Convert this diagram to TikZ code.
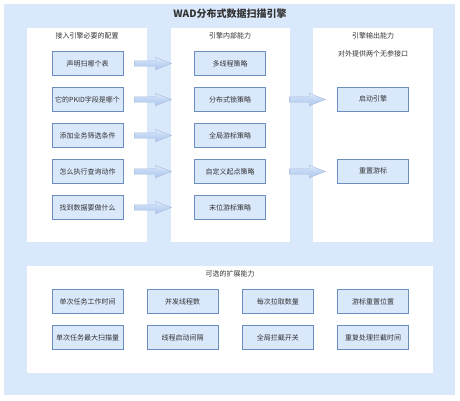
\documentclass[tikz,border=0pt]{standalone}
\usepackage{fontspec}
\setmainfont{Noto Sans CJK SC}
\usetikzlibrary{positioning,shapes.arrows}
\definecolor{bgblue}{HTML}{DAE8FC}
\definecolor{boxline}{HTML}{6C8EBF}
\definecolor{arrowblue}{HTML}{A9C4EB}
\definecolor{txt}{HTML}{333333}

\begin{document}
\begin{tikzpicture}[x=1pt,y=-1pt,node distance=36pt,
    item/.style={rectangle,draw=boxline,fill=bgblue,minimum width=71pt,minimum height=24pt,inner sep=1pt,font=\fontsize{7}{8}\selectfont,text=txt},
    head/.style={font=\fontsize{7}{8}\selectfont,text=txt},
    flow/.style={single arrow,draw=boxline!60,top color=bgblue,bottom color=arrowblue,minimum height=37pt,single arrow head extend=3.5pt,single arrow tip angle=42,inner sep=0pt}]
            \useasboundingbox (0,0) rectangle (460,400);
            \fill[bgblue] (4,4) rectangle (455,395);
            \fill[white] (27,28) rectangle (147,242);
            \fill[white] (171,28) rectangle (290,242);
            \fill[white] (313,28) rectangle (433,242);
            \fill[white] (27,266) rectangle (433,373);

            \node[font=\fontsize{10}{12}\selectfont\bfseries,text=txt] (title) at (230,13.5) {WAD分布式数据扫描引擎};
            \node[head] (cfg) at (87,36) {接入引擎必要的配置};
            \node[head] (core) at (230,36) {引擎内部能力};
            \node[head] (out) at (373,36) {引擎输出能力};
            \node[head] (api) at (373,53.5) {对外提供两个无参接口};
            \node[head] (ext) at (230,273.5) {可选的扩展能力};

            % config column
            \node[item] (l1) at (87.5,63.5) {声明扫哪个表};
            \node[item] (l2) [below of=l1] {它的PKID字段是哪个};
            \node[item] (l3) [below of=l2] {添加业务筛选条件};
            \node[item] (l4) [below of=l3] {怎么执行查询动作};
            \node[item] (l5) [below of=l4] {找到数据要做什么};

            % engine column
            \node[item] (m1) at (230,63.5) {多线程策略};
            \node[item] (m2) [below of=m1] {分布式锁策略};
            \node[item] (m3) [below of=m2] {全局游标策略};
            \node[item] (m4) [below of=m3] {自定义起点策略};
            \node[item] (m5) [below of=m4] {末位游标策略};

            % output column
            \node[item] (r1) at (373,99) {启动引擎};
            \node[item] (r2) [below of=r1,node distance=72pt] {重置游标};

            % extensions
            \node[item] (b1) at (87.5,301.5) {单次任务工作时间};
            \node[item] (b2) [right of=b1,node distance=95.2pt] {并发线程数};
            \node[item] (b3) [right of=b2,node distance=95.2pt] {每次拉取数量};
            \node[item] (b4) [right of=b3,node distance=95.2pt] {游标重置位置};
            \node[item] (b5) [below of=b1] {单次任务最大扫描量};
            \node[item] (b6) [below of=b2] {线程启动间隔};
            \node[item] (b7) [below of=b3] {全局拦截开关};
            \node[item] (b8) [below of=b4] {重复处理拦截时间};

            \node[flow] (a1) [right=11pt of l1] {\rule{0pt}{5pt}};
            \node[flow] (a2) [right=11pt of l2] {\rule{0pt}{5pt}};
            \node[flow] (a3) [right=11pt of l3] {\rule{0pt}{5pt}};
            \node[flow] (a4) [right=11pt of l4] {\rule{0pt}{5pt}};
            \node[flow] (a5) [right=11pt of l5] {\rule{0pt}{5pt}};
            \node[flow,minimum height=36pt] (a6) [right=23.5pt of m2] {\rule{0pt}{5pt}};
            \node[flow,minimum height=36pt] (a7) [right=23.5pt of m4] {\rule{0pt}{5pt}};
        \end{tikzpicture}
\end{document}
